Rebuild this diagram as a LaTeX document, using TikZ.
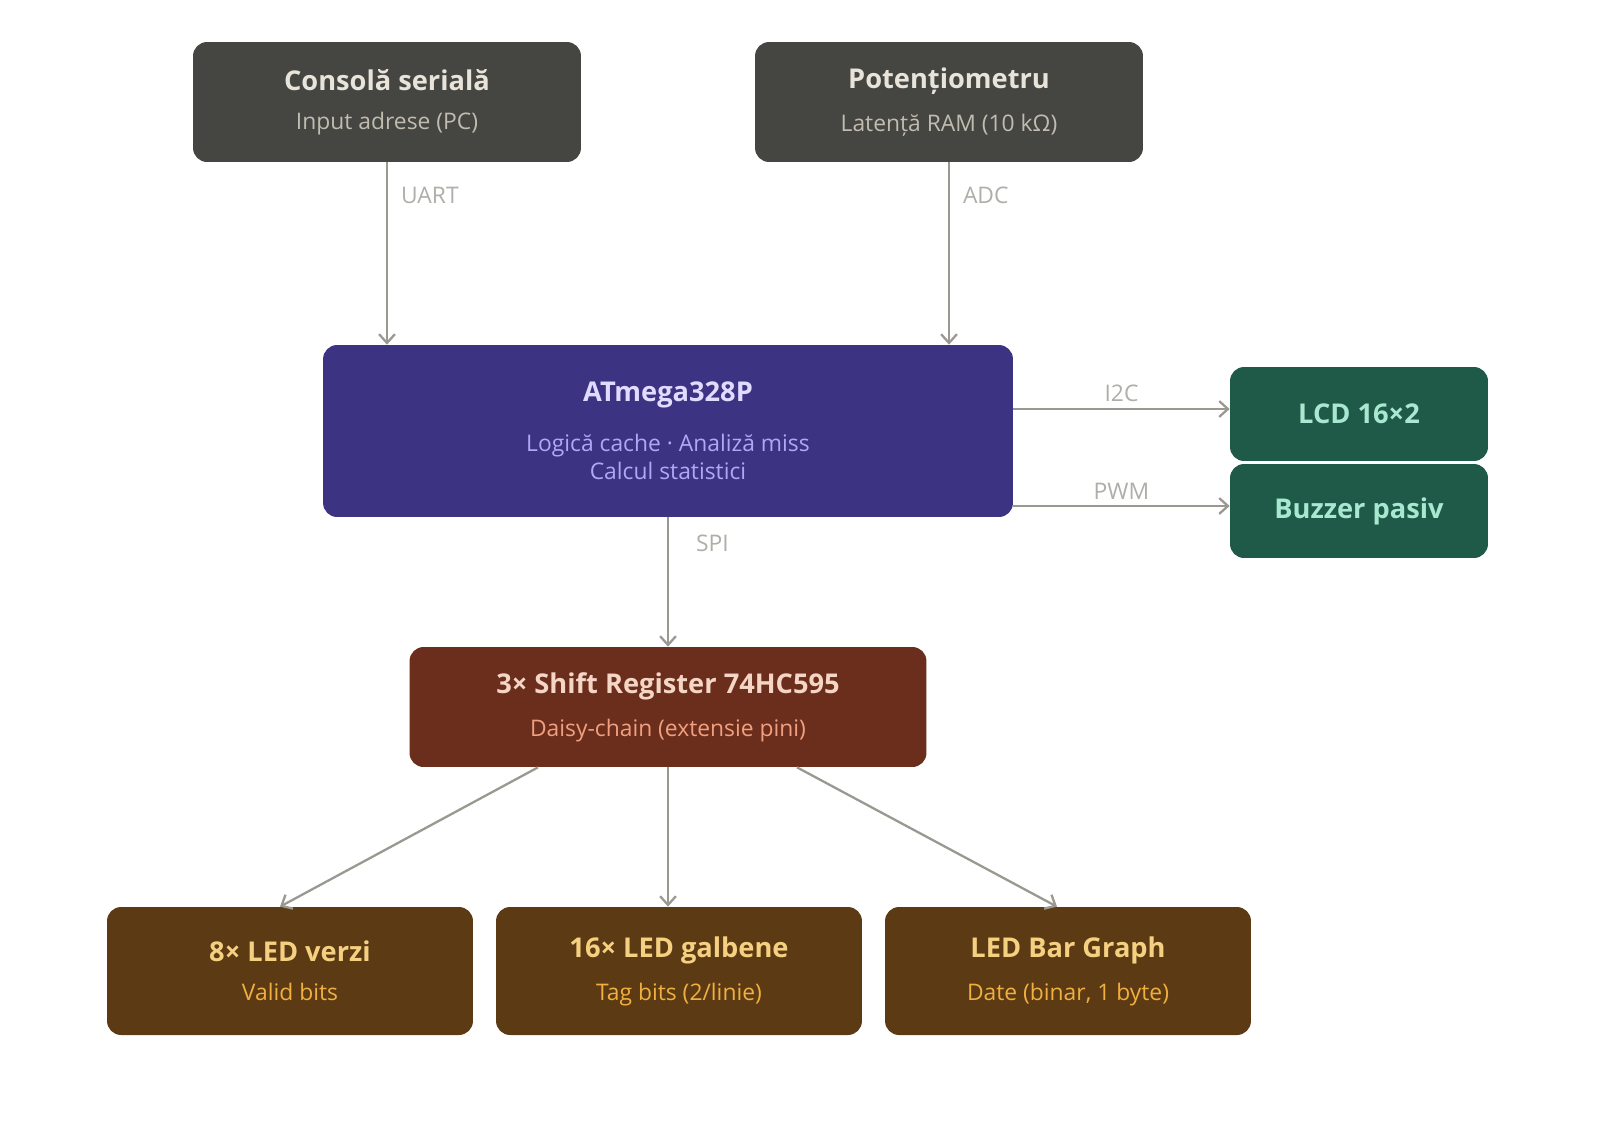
\documentclass[tikz,border=0pt]{standalone}
\usepackage{fontspec}
\setmainfont{Open Sans}
\usetikzlibrary{arrows.meta,calc}
\definecolor{greybox}{HTML}{454541}
\definecolor{greyttl}{HTML}{E8E4DA}
\definecolor{greysub}{HTML}{C0BCB0}
\definecolor{mcubox}{HTML}{3C3483}
\definecolor{mcuttl}{HTML}{E0DCFF}
\definecolor{mcusub}{HTML}{B0A8F5}
\definecolor{outbox}{HTML}{1F5A48}
\definecolor{outttl}{HTML}{A8E8D0}
\definecolor{srbox}{HTML}{6B2E1C}
\definecolor{srttl}{HTML}{F5D5C5}
\definecolor{srsub}{HTML}{F0A080}
\definecolor{ledbox}{HTML}{5C3A14}
\definecolor{ledttl}{HTML}{F5D080}
\definecolor{ledsub}{HTML}{F0B040}
\definecolor{wire}{HTML}{9A9890}
\definecolor{wirelbl}{HTML}{B0AEA8}
\newcommand{\ttl}[1]{{\fontsize{15.5}{19}\selectfont\bfseries #1}}
\newcommand{\sub}[1]{{\fontsize{13}{18}\selectfont #1}}
\tikzstyle{block} = [draw=none, rectangle, rounded corners=8pt, align=center, inner sep=0pt]
\tikzstyle{line} = [draw=wire, line width=1.3pt, -{Straight Barb[length=5pt,width=9pt]}]
\tikzstyle{lbl} = [text=wirelbl, font=\fontsize{13}{15}\selectfont]
\begin{document}
\begin{tikzpicture}[x=0.02cm, y=-0.02cm]
        \fill[white] (0,0) rectangle (1600,1123);
        \node[block, fill=greybox, minimum width=7.76cm, minimum height=2.4cm] (serial) at (387,102)
            {\textcolor{greyttl}{\ttl{Consolă serială}}\\[10pt]\textcolor{greysub}{\sub{Input adrese (PC)}}};
        \node[block, fill=greybox, minimum width=7.76cm, minimum height=2.4cm] (pot) at (949,102)
            {\textcolor{greyttl}{\ttl{Potențiometru}}\\[10pt]\textcolor{greysub}{\sub{Latență RAM (10 kΩ)}}};
        \node[block, fill=mcubox, minimum width=13.8cm, minimum height=3.44cm] (mcu) at (668,431)
            {\textcolor{mcuttl}{\ttl{ATmega328P}}\\[14pt]\textcolor{mcusub}{\sub{Logică cache · Analiză miss}}\\[2pt]\textcolor{mcusub}{\sub{Calcul statistici}}};
        \node[block, fill=outbox, minimum width=5.16cm, minimum height=1.88cm] (lcd) at (1359,414)
            {\textcolor{outttl}{\ttl{LCD 16×2}}};
        \node[block, fill=outbox, minimum width=5.16cm, minimum height=1.88cm] (buzzer) at (1359,511)
            {\textcolor{outttl}{\ttl{Buzzer pasiv}}};
        \node[block, fill=srbox, minimum width=10.34cm, minimum height=2.4cm] (shift) at (668,707)
            {\textcolor{srttl}{\ttl{3× Shift Register 74HC595}}\\[10pt]\textcolor{srsub}{\sub{Daisy-chain (extensie pini)}}};
        \node[block, fill=ledbox, minimum width=7.32cm, minimum height=2.56cm] (green) at (290,971)
            {\textcolor{ledttl}{\ttl{8× LED verzi}}\\[10pt]\textcolor{ledsub}{\sub{Valid bits}}};
        \node[block, fill=ledbox, minimum width=7.32cm, minimum height=2.56cm] (yellow) at (679,971)
            {\textcolor{ledttl}{\ttl{16× LED galbene}}\\[10pt]\textcolor{ledsub}{\sub{Tag bits (2/linie)}}};
        \node[block, fill=ledbox, minimum width=7.32cm, minimum height=2.56cm] (bar) at (1068,971)
            {\textcolor{ledttl}{\ttl{LED Bar Graph}}\\[10pt]\textcolor{ledsub}{\sub{Date (binar, 1 byte)}}};
        \coordinate (i2c) at ($(mcu.east |- lcd.west)+(0,-5)$);
        \coordinate (pwm) at ($(mcu.east |- buzzer.west)+(0,-5)$);
        \path[line] (serial) -- node[lbl, right, pos=0.18, xshift=4pt] {UART} (serial |- mcu.north);
        \path[line] (pot) -- node[lbl, right, pos=0.18, xshift=4pt] {ADC} (pot |- mcu.north);
        \path[line] (i2c) -- node[lbl, above] {I2C} (i2c -| lcd.west);
        \path[line] (pwm) -- node[lbl, above] {PWM} (pwm -| buzzer.west);
        \path[line] (mcu) -- node[lbl, right, pos=0.2, xshift=12pt] {SPI} (shift);
        \path[line] ($(shift.south)+(-130,0)$) -- ($(green.north)+(-10,0)$);
        \path[line] (shift) -- (shift |- yellow.north);
        \path[line] ($(shift.south)+(129,0)$) -- ($(bar.north)+(-11,0)$);
        \pgfresetboundingbox
        \useasboundingbox (0,0) rectangle (1600,1123);
\end{tikzpicture}
\end{document}
